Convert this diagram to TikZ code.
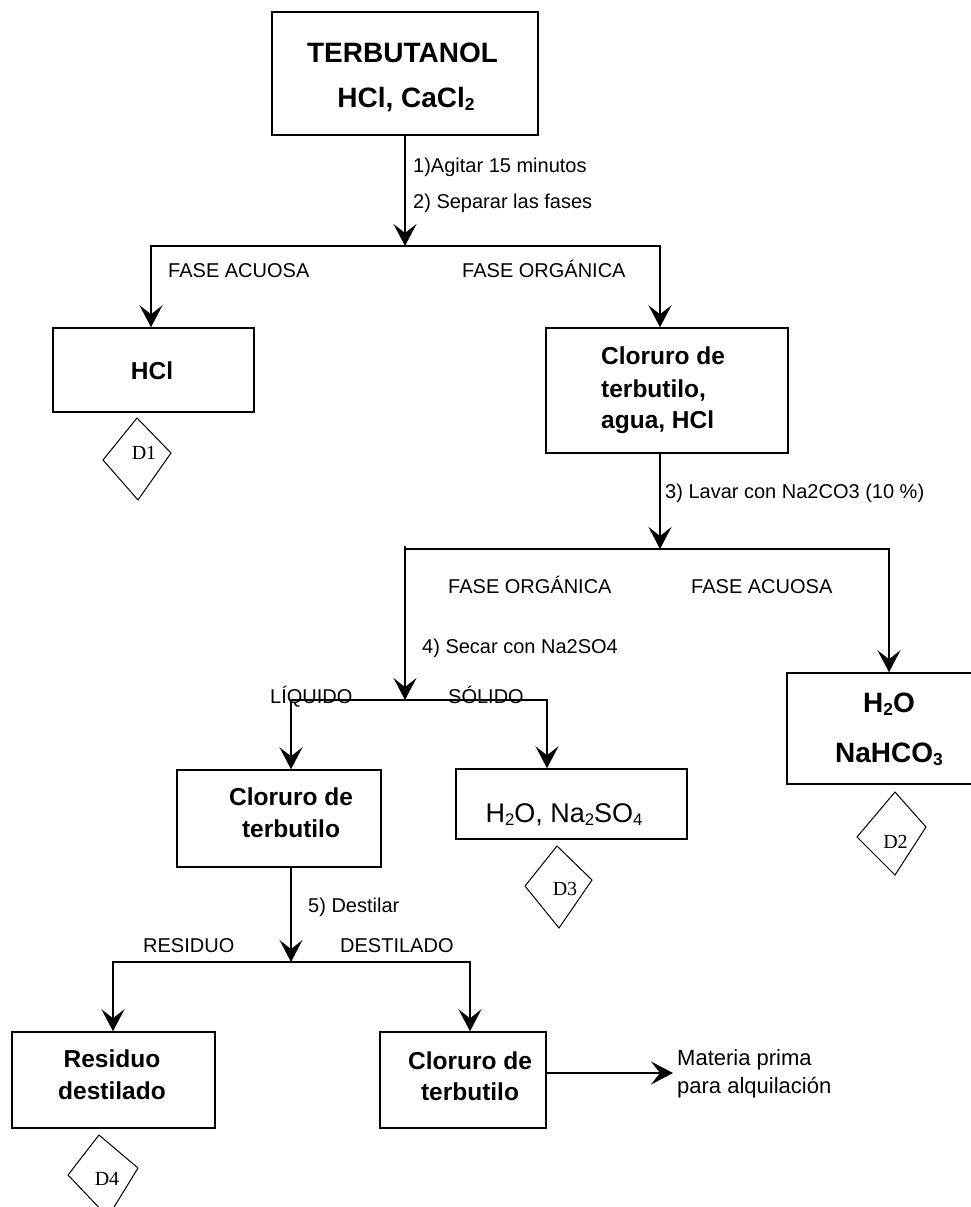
\documentclass[tikz,border=0pt]{standalone}
\usepackage{fontspec}
\setmainfont{Liberation Sans}
\newfontfamily\dfont{Liberation Serif}
\usetikzlibrary{arrows.meta}
\tikzset{
  box/.style={draw, line width=1.5pt, rectangle, inner sep=0pt},
  conn/.style={line width=2pt, line cap=rect},
  arr/.style={line width=2pt, -{Stealth[length=22pt,width=23pt,inset=9pt]}},
  bt/.style={inner sep=0pt, anchor=base, font=\fontsize{24.5}{29}\bfseries\selectfont},
  btw/.style={inner sep=0pt, anchor=base west, font=\fontsize{24.5}{29}\bfseries\selectfont},
  btl/.style={inner sep=0pt, anchor=base, font=\fontsize{28}{32}\bfseries\selectfont},
  rtl/.style={inner sep=0pt, anchor=base, font=\fontsize{27}{32}\selectfont},
  lbl/.style={inner sep=0pt, anchor=base west, font=\fontsize{20}{24}\selectfont},
  lblm/.style={inner sep=0pt, anchor=base west, font=\fontsize{22}{26}\selectfont},
  dmd/.style={draw, line width=1pt, line join=miter},
  dlbl/.style={inner sep=0pt, font=\dfont\fontsize{20}{24}\selectfont}
}
\newcommand\sbx[1]{\raisebox{-0.12em}{\fontsize{0.62\dimexpr\fontdimen6\font\relax}{1em}\selectfont #1}}
\begin{document}
\begin{tikzpicture}[x=1pt,y=-1pt]
\useasboundingbox (0,0) rectangle (971,1207);

% ---------- boxes ----------
\node[box, minimum width=266pt, minimum height=123pt] (top) at (405,73.5) {};
\node[box, minimum width=201pt, minimum height=84pt]  (hcl) at (153.5,370) {};
\node[box, minimum width=242pt, minimum height=125pt] (b2) at (667,390.5) {};
\node[box, minimum width=200pt, minimum height=111pt] (b3) at (887,728.5) {};
\node[box, minimum width=204pt, minimum height=97pt]  (b4) at (279,818.5) {};
\node[box, minimum width=231pt, minimum height=70pt]  (b5) at (571.5,804) {};
\node[box, minimum width=203pt, minimum height=96pt]  (b6) at (113.5,1080) {};
\node[box, minimum width=166pt, minimum height=96pt]  (b7) at (463,1080) {};

% ---------- box texts ----------
\node[btl] (t0a) at (402.5,63) {TERBUTANOL};
\node[btl] (t0b) at (406,107) {HCl, CaCl\sbx{2}};
\node[bt]  (t1)  at (152,379) {HCl};
\node[btw] (t2a) at (601,364) {Cloruro de};
\node[btw] (t2b) at (601,397) {terbutilo,};
\node[btw] (t2c) at (601,428) {agua, HCl};
\node[btl] (t3a) at (889,712) {H\sbx{2}O};
\node[btl] (t3b) at (889,762) {NaHCO\sbx{3}};
\node[bt]  (t4a) at (291,805) {Cloruro de};
\node[bt]  (t4b) at (291,837) {terbutilo};
\node[rtl] (t5)  at (564,822) {H\sbx{2}O, Na\sbx{2}SO\sbx{4}};
\node[bt]  (t6a) at (112,1067) {Residuo};
\node[bt]  (t6b) at (112,1099) {destilado};
\node[bt]  (t7a) at (470,1069) {Cloruro de};
\node[bt]  (t7b) at (470,1100) {terbutilo};

% ---------- junctions ----------
\coordinate (j1)  at (405,246);
\coordinate (j1l) at (151,246);
\coordinate (j1r) at (660,246);
\coordinate (j2)  at (660,549);
\coordinate (j2l) at (405,549);
\coordinate (j2r) at (889,549);
\coordinate (j3)  at (405,700);
\coordinate (j3l) at (291,700);
\coordinate (j3r) at (547,700);
\coordinate (j4)  at (291,962);
\coordinate (j4l) at (113,962);
\coordinate (j4r) at (470,962);
\coordinate (mp)  at (673,1073);

% ---------- connectors ----------
\draw[arr] (top.south -| j1) -- (j1);
\draw[conn] (j1l) -- (j1r);
\draw[arr] (j1l) -- (j1l |- hcl.north);
\draw[arr] (j1r) -- (j1r |- b2.north);

\draw[arr] (j2 |- b2.south) -- (j2);
\draw[conn] (j2l) -- (j2r);
\draw[arr] ([yshift=3pt]j2l) -- (j3);
\draw[arr] (j2r) -- (j2r |- b3.north);

\draw[conn] (j3l) -- (j3r);
\draw[arr] (j3l) -- (j3l |- b4.north);
\draw[arr] (j3r) -- (j3r |- b5.north);

\draw[arr] (j4 |- b4.south) -- (j4);
\draw[conn] (j4l) -- (j4r);
\draw[arr] (j4l) -- (j4l |- b6.north);
\draw[arr] (j4r) -- (j4r |- b7.north);

\draw[arr] (b7.east |- mp) -- (mp);

% ---------- labels ----------
\node[lbl] (l1) at (413,172) {1)Agitar 15 minutos};
\node[lbl] (l2) at (413,208) {2) Separar las fases};
\node[lbl] (l3) at (168,277) {FASE ACUOSA};
\node[lbl] (l4) at (462,277) {FASE ORGÁNICA};
\node[lbl] (l5) at (665,498) {3) Lavar con Na2CO3 (10 \%)};
\node[lbl] (l6) at (448,593) {FASE ORGÁNICA};
\node[lbl] (l7) at (691,593) {FASE ACUOSA};
\node[lbl] (l8) at (422,653) {4) Secar con Na2SO4};
\node[lbl] (l9) at (270,703) {LÍQUIDO};
\node[lbl] (l10) at (448,703) {SÓLIDO};
\node[lbl] (l11) at (308,912) {5) Destilar};
\node[lbl] (l12) at (143,952) {RESIDUO};
\node[lbl] (l13) at (340,952) {DESTILADO};
\node[lblm] (l14) at (677,1065) {Materia prima};
\node[lblm] (l15) at (677,1093) {para alquilación};

% ---------- diamonds ----------
\path[dmd] (137,418) -- ++(34,35) -- ++(-33,47) -- ++(-35,-40) -- cycle;
\node[dlbl] (d1) at (144,453) {D1};
\path[dmd] (895,792) -- ++(31,35) -- ++(-31,48) -- ++(-38,-38) -- cycle;
\node[dlbl] (d2) at (895.5,842) {D2};
\path[dmd] (557,846) -- ++(35,34) -- ++(-33,48) -- ++(-34,-42) -- cycle;
\node[dlbl] (d3) at (565,889) {D3};
\path[dmd] (99,1135) -- ++(39,33) -- ++(-30,49) -- ++(-40,-42) -- cycle;
\node[dlbl] (d4) at (107,1179) {D4};
\end{tikzpicture}
\end{document}
